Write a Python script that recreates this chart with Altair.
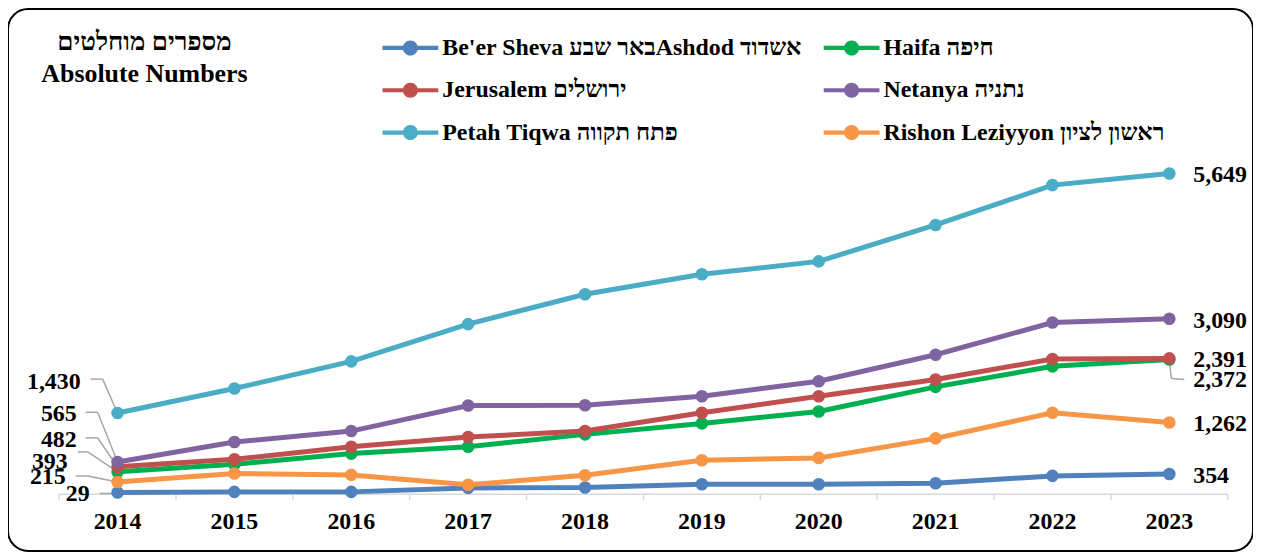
import altair as alt
import pandas as pd

# ---------------- data ----------------
years = [2014, 2015, 2016, 2017, 2018, 2019, 2020, 2021, 2022, 2023]
series_names = [
    "Be'er Sheva באר שבעAshdod  אשדוד",
    "Haifa חיפה",
    "Jerusalem ירושלים",
    "Netanya נתניה",
    "Petah Tiqwa פתח תקווה",
    "Rishon Leziyyon ראשון לציון",
]
series_colors = ["#4f81bd", "#00b050", "#c0504d", "#8064a2", "#4bacc6", "#f79646"]

beer_sheva = [29, 40, 40, 110, 117, 175, 175, 193, 321, 354]
haifa = [393, 526, 714, 836, 1053, 1246, 1456, 1889, 2251, 2372]
jerusalem = [482, 614, 836, 1006, 1111, 1433, 1725, 2018, 2380, 2391]
netanya = [565, 918, 1111, 1561, 1567, 1725, 1988, 2456, 3023, 3090]
petah_tiqwa = [1430, 1860, 2339, 2995, 3521, 3872, 4100, 4742, 5444, 5649]
rishon = [215, 363, 339, 164, 333, 596, 638, 982, 1433, 1262]

series_values = [beer_sheva, haifa, jerusalem, netanya, petah_tiqwa, rishon]
title_lines = ["מספרים מוחלטים", "Absolute Numbers"]

# ---------------- layout / style (pixels) ----------------
W, H = 1250, 544
FONT = "Liberation Serif, DejaVu Sans"
LABEL_SIZE = 24

# label placement for first-year labels: (label right-edge dx, label dy, elbow, end)
left_label_layout = {
    4: (-37, -31, (-15, -34), (-27, -34)),
    3: (-41, -48, (-20, -50), (-32, -50)),
    2: (-41, -27, (-20, -29), (-32, -29)),
    1: (-50, -10, (-30, -20), (-40, -20)),
    5: (-52, -5, (-30, -6), (-42, -6)),
    0: (-28, 2, (-5, 1), (-18, 1)),
}
# last-year labels: (dx, dy, leader or None)
right_label_layout = {
    4: (24, 2, None),
    3: (24, 2, None),
    2: (24, 2, None),
    1: (24, 21, ((2, 19), (15, 20))),
    5: (24, 2, None),
    0: (24, 2, None),
}

rows = []
for name, vals in zip(series_names, series_values):
    for yr, v in zip(years, vals):
        rows.append({"series": name, "year": yr, "value": v, "label": f"{v:,}"})
df = pd.DataFrame(rows)

xs = alt.Scale(domain=[2013.0625, 2023.716], nice=False, zero=False)
ys = alt.Scale(domain=[-1000, 8544], nice=False, zero=False)

X = lambda f="year": alt.X(f"{f}:Q", scale=xs, axis=None)
Y = lambda f="value": alt.Y(f"{f}:Q", scale=ys, axis=None)

# legend is filled column by column: order entries so rows read like the reference
legend_order = series_names[0::2] + series_names[1::2]
legend_colors = [series_colors[series_names.index(n)] for n in legend_order]

legend_path = ("M-2,-0.15L2,-0.15L2,0.15L-2,0.15Z "
               "M0.54,0A0.54,0.54,0,1,1,-0.54,0A0.54,0.54,0,1,1,0.54,0Z")
legend = alt.Legend(
    orient="none", legendX=390, legendY=25, columns=2, title=None,
    symbolType=legend_path, symbolSize=784, symbolStrokeWidth=0,
    symbolOpacity=1, labelFont=FONT, labelFontSize=24, labelFontWeight="bold",
    labelColor="black", labelOffset=18, labelLimit=600, columnPadding=15,
    rowPadding=16.5, padding=0,
)
fill_enc = alt.Fill("series:N", scale=alt.Scale(domain=legend_order, range=legend_colors),
                    legend=legend)

layers = []

# x axis (category axis with ticks between years)
axis_df = pd.DataFrame({"x": [years[0] - 0.5], "x2": [years[-1] + 0.5], "zero": [0]})
layers.append(alt.Chart(axis_df).mark_rule(color="#d9d9d9", strokeWidth=1.5).encode(
    x=X("x"), x2="x2", y=Y("zero")))
tick_df = pd.DataFrame({"pos": [y - 0.5 for y in years] + [years[-1] + 0.5]})
tick_df["zero"] = 0
layers.append(alt.Chart(tick_df).mark_rule(color="#d9d9d9", strokeWidth=1.5, y2Offset=6).encode(
    x=X("pos"), y=Y("zero"), y2="zero"))
year_df = pd.DataFrame({"year": years, "txt": [str(y) for y in years], "zero": 0})
layers.append(alt.Chart(year_df).mark_text(
    font=FONT, fontSize=LABEL_SIZE, fontWeight="bold", color="black", dy=28, baseline="middle"
).encode(x=X(), y=Y("zero"), text="txt:N"))

# leader lines
for idx, (ldx, ldy, elbow, end) in left_label_layout.items():
    d = df[(df.series == series_names[idx]) & (df.year == years[0])]
    layers.append(alt.Chart(d).mark_rule(color="#a6a6a6", strokeWidth=1.5,
                                         x2Offset=elbow[0], y2Offset=elbow[1]).encode(
        x=X(), x2="year", y=Y(), y2="value"))
    layers.append(alt.Chart(d).mark_rule(color="#a6a6a6", strokeWidth=1.5,
                                         xOffset=elbow[0], yOffset=elbow[1],
                                         x2Offset=end[0], y2Offset=end[1]).encode(
        x=X(), x2="year", y=Y(), y2="value"))
for idx, (rdx, rdy, leader) in right_label_layout.items():
    if leader is None:
        continue
    elbow, end = leader
    d = df[(df.series == series_names[idx]) & (df.year == years[-1])]
    layers.append(alt.Chart(d).mark_rule(color="#a6a6a6", strokeWidth=1.5,
                                         x2Offset=elbow[0], y2Offset=elbow[1]).encode(
        x=X(), x2="year", y=Y(), y2="value"))
    layers.append(alt.Chart(d).mark_rule(color="#a6a6a6", strokeWidth=1.5,
                                         xOffset=elbow[0], yOffset=elbow[1],
                                         x2Offset=end[0], y2Offset=end[1]).encode(
        x=X(), x2="year", y=Y(), y2="value"))

# series: line then markers, in legend order
for name, col in zip(series_names, series_colors):
    d = df[df.series == name]
    layers.append(alt.Chart(d).mark_line(color=col, strokeWidth=5).encode(
        x=X(), y=Y(), order="year:Q"))
    layers.append(alt.Chart(d).mark_circle(size=160, opacity=1).encode(
        x=X(), y=Y(), fill=fill_enc))

# value labels
for idx, (ldx, ldy, elbow, end) in left_label_layout.items():
    d = df[(df.series == series_names[idx]) & (df.year == years[0])]
    layers.append(alt.Chart(d).mark_text(
        font=FONT, fontSize=LABEL_SIZE, fontWeight="bold", color="black",
        align="right", baseline="middle", dx=ldx, dy=ldy
    ).encode(x=X(), y=Y(), text="label:N"))
for idx, (rdx, rdy, leader) in right_label_layout.items():
    d = df[(df.series == series_names[idx]) & (df.year == years[-1])]
    layers.append(alt.Chart(d).mark_text(
        font=FONT, fontSize=LABEL_SIZE, fontWeight="bold", color="black",
        align="left", baseline="middle", dx=rdx, dy=rdy
    ).encode(x=X(), y=Y(), text="label:N"))

chart = alt.layer(*layers).properties(
    width=W, height=H,
    autosize=alt.AutoSizeParams(type="none"),
    padding=0,
    title=alt.TitleParams(
        text=title_lines, anchor="start", align="center", dx=137, dy=78,
        font=FONT, fontSize=26, fontWeight="bold", color="black",
        baseline="top", lineHeight=32, frame="group", offset=0, orient="top",
    ),
).configure_view(stroke="black", strokeWidth=2, cornerRadius=20)

chart.save("out.html", embed_options={"renderer": "svg", "actions": False})
